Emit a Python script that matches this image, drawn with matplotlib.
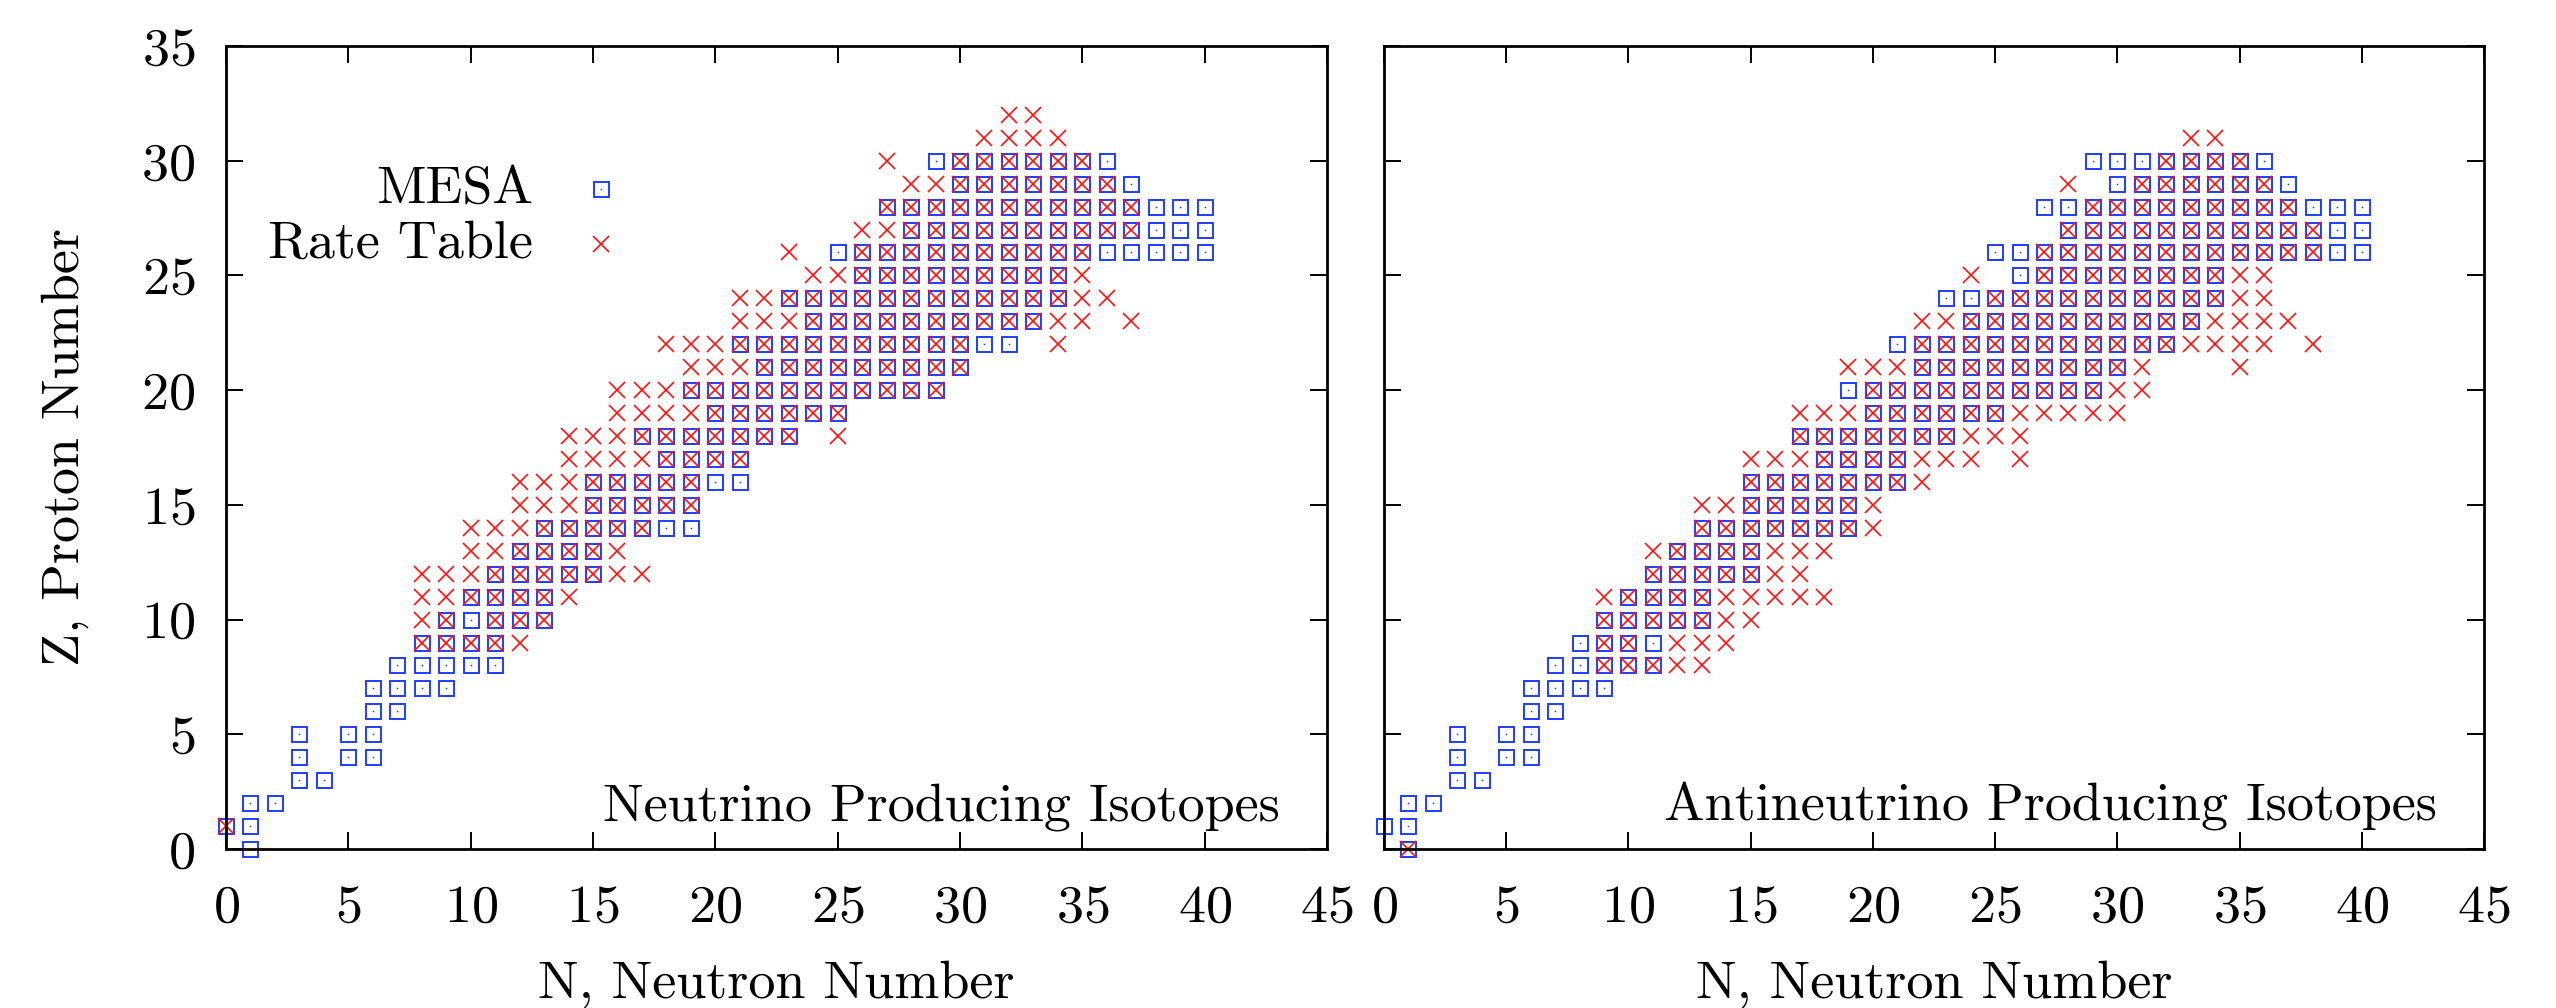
import matplotlib
matplotlib.use("Agg")
import matplotlib.pyplot as plt

plt.rcParams['font.family'] = 'cmr10'
plt.rcParams['mathtext.fontset'] = 'cm'
plt.rcParams['axes.formatter.use_mathtext'] = True

# isotopes listed row by row: index = Z, entries are N values ("a-b" = a..b)
mesa_rows = [
    "1", "0,1", "1,2", "3,4", "3,5,6", "3,5,6", "6,7", "6-9", "7-11", "8-11",
    "9-13", "10-13", "11-15", "12-15", "13-19", "15-19", "15-21", "18-21", "17-23", "20-25",
    "19-29", "22-30", "21-32", "24-33", "23-34", "26-34", "25-40", "28-40", "27-40", "30-37",
    "29-36", "", "",
]

rate_nu_rows = [
    "", "0", "", "", "", "", "", "", "", "8-12",
    "8,9,11-13", "8-14", "8-17", "10-16", "10-17", "12-19", "12-19", "14-21", "14-23,25", "16-25",
    "16-29", "19-30", "18-30,34", "21-35,37", "21-36", "24-35", "23,26-35", "26-37", "27-37", "28-36",
    "27,30-35", "31-34", "32,33",
]

rate_anu_rows = [
    "1", "", "", "", "", "", "", "", "9-13", "9,10,12-14",
    "9-15", "9-18", "11-17", "11-18", "13-20", "13-20", "15-22", "15-24,26", "17-26", "17-30",
    "20-31", "19-31,35", "22-36,38", "22-37", "25-36", "24,27-36", "27-38", "28-38", "29-37", "28,31-36",
    "32-35", "33,34",
]

panel_titles = ["Neutrino Producing Isotopes", "Antineutrino Producing Isotopes"]
xticks = [0, 5, 10, 15, 20, 25, 30, 35, 40, 45]
yticks = [0, 5, 10, 15, 20, 25, 30, 35]

BLUE = '#1f3dff'
RED = '#ff1010'
FS = 39


def expand(rows):
    ns, zs = [], []
    for z, spec in enumerate(rows):
        for part in filter(None, spec.split(',')):
            if '-' in part:
                a, b = map(int, part.split('-'))
                vals = range(a, b + 1)
            else:
                vals = [int(part)]
            for n in vals:
                ns.append(n)
                zs.append(z)
    return ns, zs


def draw_mesa(ax, n, z, **kw):
    ax.plot(n, z, ls='none', marker='s', ms=10.8, mfc='none', mec=BLUE, mew=1.4, **kw)
    ax.plot(n, z, ls='none', marker='s', ms=1.1, mfc=BLUE, mec='none', **kw)


def draw_rate(ax, n, z, **kw):
    ax.plot(n, z, ls='none', marker='x', ms=11.5, mec=RED, mew=1.2, **kw)


fig = plt.figure(figsize=(25.56, 10.08), dpi=100)
bottom = 1 - 849 / 1008
height = 803 / 1008
ax1 = fig.add_axes([226 / 2556, bottom, 1101 / 2556, height])
ax2 = fig.add_axes([1384 / 2556, bottom, 1100 / 2556, height])

mn, mz = expand(mesa_rows)
for ax, rate_rows, title in [(ax1, rate_nu_rows, panel_titles[0]),
                             (ax2, rate_anu_rows, panel_titles[1])]:
    rn, rz = expand(rate_rows)
    draw_mesa(ax, mn, mz, clip_on=False, zorder=3)
    draw_rate(ax, rn, rz, clip_on=False, zorder=4)

    ax.set_xlim(0, 45)
    ax.set_ylim(0, 35)
    ax.set_xticks(xticks)
    ax.set_yticks(yticks)
    ax.tick_params(direction='in', length=12, width=1.4, top=True, right=True,
                   labelsize=FS)
    ax.tick_params(axis='x', pad=26)
    ax.tick_params(axis='y', pad=22)
    for sp in ax.spines.values():
        sp.set_linewidth(2.0)
        sp.set_zorder(5)
    ax.set_xlabel("N, Neutron Number", fontsize=FS, labelpad=20)
    ax.text(0.957, 0.036, title, transform=ax.transAxes, ha='right', va='baseline',
            fontsize=FS)

ax2.tick_params(axis='y', labelleft=False)
ax1.set_ylabel("Z, Proton Number", fontsize=FS, va='center')
ax1.yaxis.set_label_coords(-0.146, 0.5)

# key in the upper left of the first panel
ax1.text(0.279, 0.8045, "MESA", transform=ax1.transAxes, ha='right', va='baseline', fontsize=FS)
ax1.text(0.279, 0.737, "Rate Table", transform=ax1.transAxes, ha='right', va='baseline', fontsize=FS)
draw_mesa(ax1, [0.3406], [0.822], transform=ax1.transAxes)
draw_rate(ax1, [0.3406], [0.753], transform=ax1.transAxes)

fig.savefig("out.png", dpi=100)
